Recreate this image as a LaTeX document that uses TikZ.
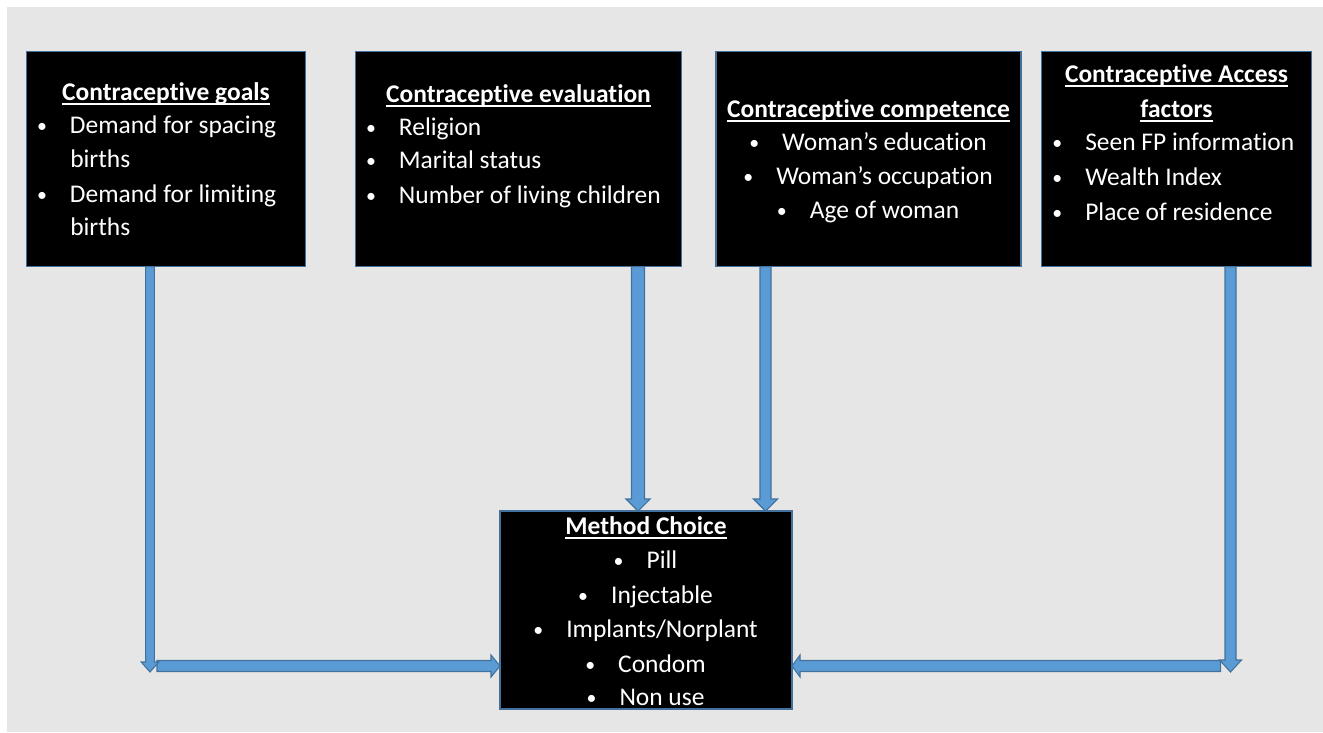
\documentclass[tikz,border=0pt]{standalone}
\usepackage{fontspec}
\setmainfont{Carlito}[Ligatures=NoCommon]
\usetikzlibrary{calc}
\definecolor{bggray}{HTML}{E7E6E6}
\definecolor{afill}{HTML}{5B9BD5}
\definecolor{aline}{HTML}{41719C}
\newcommand\bul{\makebox[6pt]{\raisebox{0.6pt}{\scalebox{0.78}{\textbullet}}}\hspace{18pt}}
\newcommand\myul[1]{\setbox0\hbox{#1}\rlap{\rule[-3.4pt]{\wd0}{1.4pt}}\box0}
% vertical block arrow pointing down: #1 start, #2 tip, #3 half shaft, #4 half head, #5 head length
\newcommand\vblock[5]{%
  \draw[blockarrow] ($(#1)+(-#3,0)$) -- ($(#2)+(-#3,-#5)$) -- ($(#2)+(-#4,-#5)$) -- (#2)
    -- ($(#2)+(#4,-#5)$) -- ($(#2)+(#3,-#5)$) -- ($(#1)+(#3,0)$) -- cycle;}
% horizontal block arrow: #5 signed head length (positive = pointing right)
\newcommand\hblock[5]{%
  \draw[blockarrow] ($(#1)+(0,-#3)$) -- ($(#2)-(#5,#3)$) -- ($(#2)-(#5,#4)$) -- (#2)
    -- ($(#2)-(#5,-#4)$) -- ($(#2)-(#5,-#3)$) -- ($(#1)+(0,#3)$) -- cycle;}
\begin{document}
\begin{tikzpicture}[x=0.75pt,y=-0.75pt,
  box/.style={draw=aline, fill=black, line width=0.9pt, inner sep=0pt, outer sep=0pt},
  blockarrow/.style={fill=afill, draw=aline, line width=0.8pt, line join=miter},
  txt/.style={text=white, inner sep=0pt, font=\fontsize{19.1}{23}\selectfont},
  ttl/.style={txt, anchor=base, font=\fontsize{19.1}{23}\selectfont\bfseries},
  lft/.style={txt, anchor=base west},
  ctr/.style={txt, anchor=base}]
\useasboundingbox (0,0) rectangle (1323,732);
\fill[white] (0,0) rectangle (1323,732);
\fill[bggray] (7,7) rectangle (1323,732);

% boxes
\node[box, minimum width=279*0.75pt, minimum height=215*0.75pt] (b1) at (166.2,159.2) {};
\node[box, minimum width=326*0.75pt, minimum height=215*0.75pt] (b2) at (518.5,159.2) {};
\node[box, minimum width=305*0.75pt, minimum height=215*0.75pt] (b3) at (868.5,159.2) {};
\node[box, minimum width=270*0.75pt, minimum height=215*0.75pt] (b4) at (1176.7,159.2) {};
\node[box, minimum width=292*0.75pt, minimum height=198*0.75pt] (b5) at (646,610) {};

% arrow coordinates
\coordinate (t1) at (150,672);
\coordinate (h1) at (157,666);
\coordinate (t2) at (638,511);
\coordinate (t3) at (765.5,511);
\coordinate (t4) at (1230.5,672);
\coordinate (h4) at (1220.5,666);

% arrows
\hblock{h1}{h1 -| b5.west}{5.5}{11}{9}
\vblock{b1.south -| t1}{t1}{4.3}{8.8}{10}
\vblock{b2.south -| t2}{t2 |- b5.north}{6.5}{12}{12}
\vblock{b3.south -| t3}{t3 |- b5.north}{5.5}{12}{12}
\hblock{h4}{h4 -| b5.east}{5.5}{11}{-8}
\vblock{b4.south -| t4}{t4}{5.5}{11}{12}

% box 1 text
\node[ttl] (g0) at (166,100) {\myul{Contraceptive goals}};
\node[lft] (g1) at (37.7,133) {\bul Demand for spacing};
\node[lft] (g2) at (70,167) {births};
\node[lft] (g3) at (37.7,202) {\bul Demand for limiting};
\node[lft] (g4) at (70,235.5) {births};

% box 2 text
\node[ttl] (e0) at (518.5,102) {\myul{Contraceptive evaluation}};
\node[lft] (e1) at (366.7,135) {\bul Religion};
\node[lft] (e2) at (366.7,168.5) {\bul Marital status};
\node[lft] (e3) at (366.7,203) {\bul Number of living children};

% box 3 text
\node[ttl] (c0) at (868.5,117) {\myul{Contraceptive competence}};
\node[ctr] (c1) at (868.5,150.5) {\bul Woman’s education};
\node[ctr] (c2) at (868.5,184) {\bul Woman’s occupation};
\node[ctr] (c3) at (868.5,218.5) {\bul Age of woman};

% box 4 text
\node[ttl] (a0) at (1176.5,82.5) {\myul{Contraceptive Access}};
\node[ttl] (a1) at (1176.5,117) {\myul{factors}};
\node[lft] (a2) at (1053,150.5) {\bul Seen FP information};
\node[lft] (a3) at (1053,185) {\bul Wealth Index};
\node[lft] (a4) at (1053,220) {\bul Place of residence};

% box 5 text
\node[ttl] (m0) at (646,534) {\myul{Method Choice}};
\node[ctr] (m1) at (646,568) {\bul Pill};
\node[ctr] (m2) at (646,603) {\bul Injectable};
\node[ctr] (m3) at (646,637) {\bul Implants/Norplant};
\node[ctr] (m4) at (646,672) {\bul Condom};
\node[ctr] (m5) at (646,705.5) {\bul Non use};
\end{tikzpicture}
\end{document}
